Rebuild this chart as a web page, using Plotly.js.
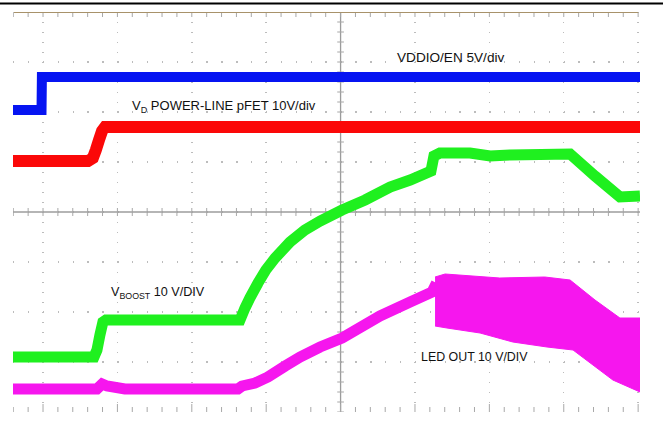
<!DOCTYPE html>
<html><head><meta charset="utf-8">
<script src="https://cdn.plot.ly/plotly-3.0.1.min.js"></script>
<style>html,body{margin:0;padding:0;background:#fff;}#chart{width:663px;height:444px;}</style>
</head><body><div id="chart"></div>
<script>
// Time in ms (20 ms/div, 0 = first graticule line), level in divisions (0 = bottom graticule line)
const vddioT = [-8.1, -0.4, -0.3, 160.5];
const vddioV = [6.04, 6.04, 6.70, 6.70];

const vdT = [-8.1, 12.1, 13.4, 14.2, 15.05, 15.86, 16.67, 160.5];
const vdV = [5.02, 5.02, 5.08, 5.24, 5.44, 5.62, 5.70, 5.70];

const boostT = [-8.1, 13.7, 14.5, 15.3, 16.1, 16.9, 52.96, 54.3, 55.6, 57.8, 59.9, 62.4, 66.4, 70.4, 74.5, 80.4, 86.6, 93.3, 98.7, 104.3, 105.1, 106.7, 114.8, 120.2, 125.5, 141.7, 148.4, 155.1, 160.5];
const boostV = [1.10, 1.10, 1.24, 1.54, 1.80, 1.84, 1.84, 2.08, 2.28, 2.58, 2.84, 3.08, 3.40, 3.64, 3.82, 4.04, 4.24, 4.50, 4.64, 4.82, 5.12, 5.18, 5.18, 5.12, 5.14, 5.16, 4.72, 4.30, 4.32];

const ledT = [-8.1, 14.5, 15.9, 17.2, 22.0, 52.4, 53.5, 57.0, 60.5, 65.1, 69.1, 74.5, 80.4, 90.6, 98.7, 104.6, 105.8];
const ledV = [0.46, 0.46, 0.56, 0.52, 0.46, 0.46, 0.52, 0.58, 0.70, 0.92, 1.10, 1.30, 1.48, 1.92, 2.20, 2.40, 2.58];

const ledPwmTopT = [105.4, 108.1, 122.8, 134.9, 141.7, 148.4, 155.1, 160.5];
const ledPwmTopV = [2.70, 2.76, 2.68, 2.70, 2.64, 2.24, 1.88, 1.88];
const ledPwmBotT = [105.4, 108.6, 117.5, 126.3, 135.5, 142.5, 153.2, 160.5];
const ledPwmBotV = [1.72, 1.68, 1.58, 1.40, 1.30, 1.24, 0.64, 0.40];

const labelVddio = 'VDDIO/EN 5V/div';
const labelVd = 'V<sub>D</sub> POWER-LINE pFET 10V/div';
const labelBoost = 'V<sub>BOOST</sub> 10 V/DIV';
const labelLed = 'LED OUT 10 V/DIV';
const labelTime = '20ms/div';

const BLUE = '#0614f2', RED = '#fb0808', GREEN = '#1ff01f', PINK = '#f616ee';

const traces = [
  {x: vddioT, y: vddioV, mode: 'lines', line: {color: BLUE, width: 10, simplify: false}, hoverinfo: 'skip'},
  {x: vdT, y: vdV, mode: 'lines', line: {color: RED, width: 12, simplify: false}, hoverinfo: 'skip'},
  {x: boostT, y: boostV, mode: 'lines', line: {color: GREEN, width: 11, simplify: false}, hoverinfo: 'skip'},
  {x: ledT, y: ledV, mode: 'lines', line: {color: PINK, width: 11, simplify: false}, hoverinfo: 'skip'},
  {x: ledPwmTopT, y: ledPwmTopV, mode: 'lines', line: {color: PINK, width: 1, simplify: false}, hoverinfo: 'skip'},
  {x: ledPwmBotT, y: ledPwmBotV, mode: 'lines', line: {color: PINK, width: 1, simplify: false}, fill: 'tonexty', fillcolor: PINK, hoverinfo: 'skip'}
];

const shapes = [];
const tickC = '#a8a8a8';
function seg(x0, x1, y0, y1, c, w) {
  shapes.push({type: 'line', xref: 'x', yref: 'y', x0: x0, x1: x1, y0: y0, y1: y1, line: {color: c, width: w}, layer: 'between'});
}
// centre cross-hair
seg(80, 80, 0, 8, '#9c9c9c', 1.3);
seg(-8.1, 160.5, 4, 4, '#9c9c9c', 1.3);
for (let k = -2; k <= 40; k++) {
  const t = 4 * k;
  const major = (k % 5 === 0);
  seg(t, t, 3.92, 4.08, tickC, 1);
  seg(t, t, 0, major ? 0.16 : 0.1, tickC, 1);
  seg(t, t, 7.9, 8, tickC, 1);
}
for (let k = 0; k <= 40; k++) {
  const y = 0.2 * k;
  seg(79.1, 80.9, y, y, tickC, 1);
}
// top border of graticule (tan) and black rule above
shapes.push({type: 'line', xref: 'x', yref: 'y', x0: -7.8, x1: 160, y0: 8, y1: 8, line: {color: '#a8926a', width: 2.2}, layer: 'above'});
shapes.push({type: 'line', xref: 'paper', yref: 'paper', x0: -0.03, x1: 1.05, y0: 1.021, y1: 1.021, line: {color: '#000', width: 2}});

function f(size) { return {family: 'Liberation Sans, Arial, sans-serif', size: size, color: '#111'}; }
const annotations = [
  {text: labelVddio, x: 94.6, y: 7.1, xref: 'x', yref: 'y', xanchor: 'left', yanchor: 'middle', showarrow: false, font: f(13.6)},
  {text: labelVd, x: 23.4, y: 6.12, xref: 'x', yref: 'y', xanchor: 'left', yanchor: 'middle', showarrow: false, font: f(13)},
  {text: labelBoost, x: 17.7, y: 2.38, xref: 'x', yref: 'y', xanchor: 'left', yanchor: 'middle', showarrow: false, font: f(12.6)},
  {text: labelLed, x: 101.1, y: 1.1, xref: 'x', yref: 'y', xanchor: 'left', yanchor: 'middle', showarrow: false, font: f(12.4)},
  {text: labelTime, x: 80.1, y: -0.36, xref: 'x', yref: 'y', xanchor: 'center', yanchor: 'middle', showarrow: false, font: f(13)}
];

const layout = {
  width: 663, height: 444, autosize: false,
  margin: {l: 13, r: 22.9, t: 12, b: 32, pad: 0},
  paper_bgcolor: '#fff', plot_bgcolor: '#fff',
  showlegend: false,
  xaxis: {range: [-8.07, 160.5], tick0: 0, dtick: 20, showgrid: true, gridcolor: '#bcbcbc', gridwidth: 1.4,
          griddash: '1.4px,8.6px', zeroline: false, showline: false, showticklabels: false, ticks: '', fixedrange: true},
  yaxis: {range: [0, 8], tick0: 0, dtick: 1, showgrid: true, gridcolor: '#bcbcbc', gridwidth: 1.4,
          griddash: '1.4px,13.48px', zeroline: false, showline: false, showticklabels: false, ticks: '', fixedrange: true},
  shapes: shapes,
  annotations: annotations
};

Plotly.newPlot('chart', traces, layout, {staticPlot: true, displayModeBar: false});
</script>
</body></html>
